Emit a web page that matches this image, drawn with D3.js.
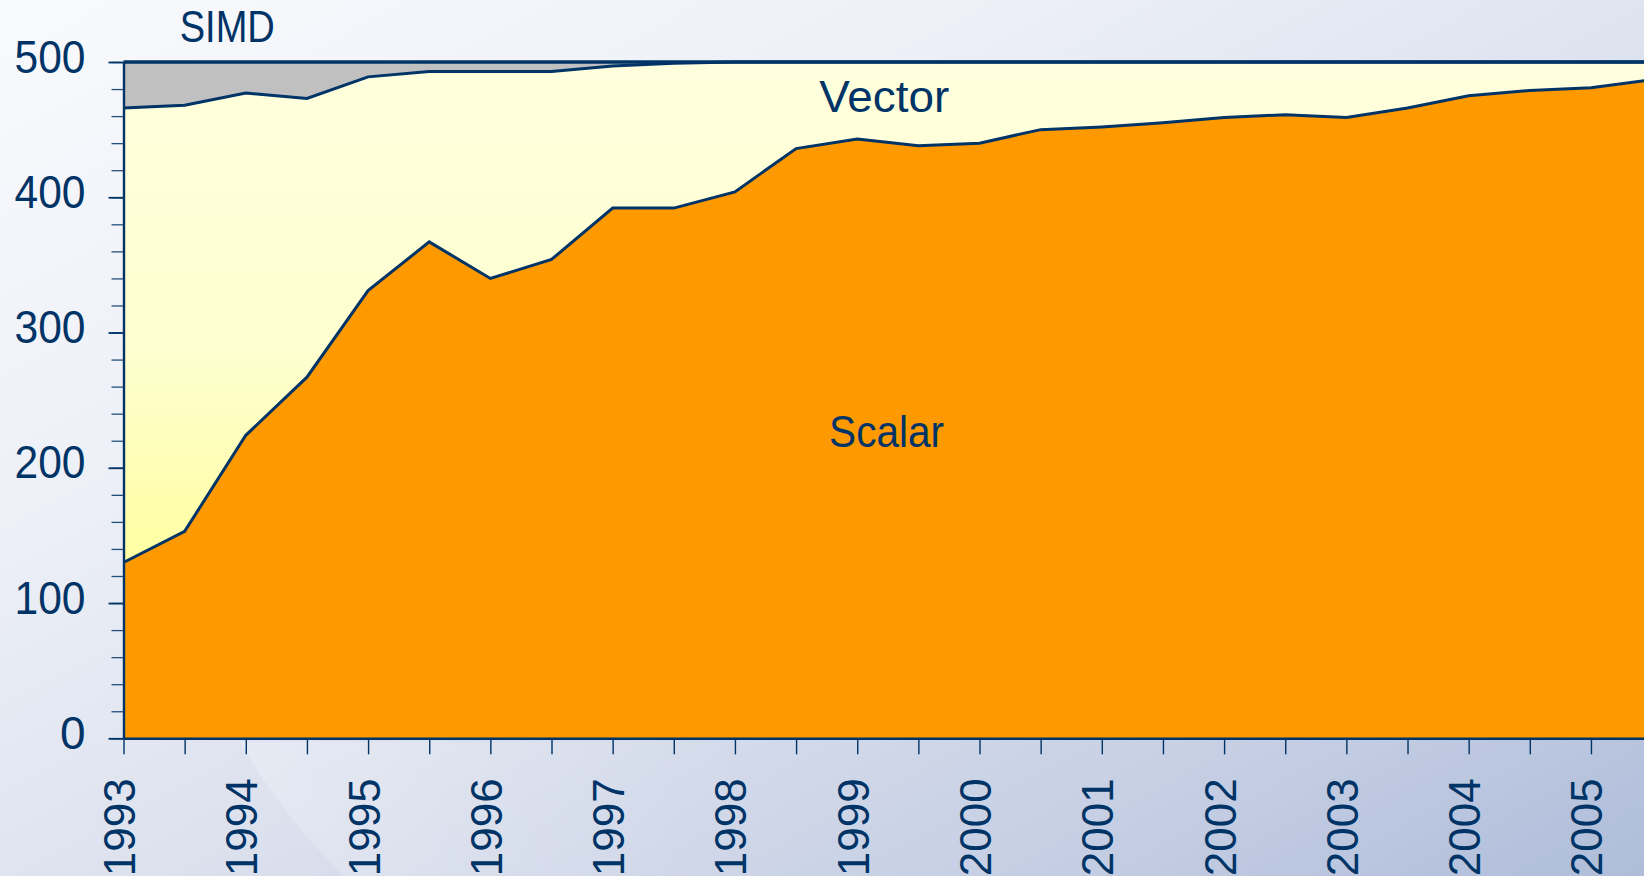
<!DOCTYPE html>
<html>
<head>
<meta charset="utf-8">
<script src="https://d3js.org/d3.v7.min.js"></script>
<style>
  html, body { margin: 0; padding: 0; overflow: hidden; background: #eef1f7; }
  svg { display: block; }
</style>
</head>
<body>
<svg id="chart" width="1644" height="876"></svg>
<script>
// ---- data (TOP500 systems by processor type, half-year lists) ----
const periods = [1993, 1993.5, 1994, 1994.5, 1995, 1995.5, 1996, 1996.5, 1997, 1997.5,
                 1998, 1998.5, 1999, 1999.5, 2000, 2000.5, 2001, 2001.5, 2002, 2002.5,
                 2003, 2003.5, 2004, 2004.5, 2005, 2005.5];
const scalar = [130, 153, 224, 267, 331, 367, 340, 354, 392, 392,
                404, 436, 443, 438, 440, 450, 452, 455, 459, 461,
                459, 466, 475, 479, 481, 487];
const vector = [336, 315, 253, 206, 158, 126, 153, 139, 105, 107,
                96, 64, 57, 62, 60, 50, 48, 45, 41, 39,
                41, 34, 25, 21, 19, 13];
const simd   = [34, 32, 23, 27, 11, 7, 7, 7, 3, 1,
                0, 0, 0, 0, 0, 0, 0, 0, 0, 0,
                0, 0, 0, 0, 0, 0];
const seriesKeys = ["scalar", "vector", "simd"];
const yearLabels = [1993, 1994, 1995, 1996, 1997, 1998, 1999, 2000, 2001, 2002, 2003, 2004, 2005];
const yMajorTicks = [0, 100, 200, 300, 400, 500];
const yMinorTicks = d3.range(0, 501, 20);
const areaLabels = [
  { key: "simd",   text: "SIMD",   year: 1993.46, value: 515.0, len: 95 },
  { key: "vector", text: "Vector", year: 1998.69, value: 463.3, len: 130 },
  { key: "scalar", text: "Scalar", year: 1998.77, value: 215.6, len: 115 }
];

// ---- layout ----
const W = 1644, H = 876;
const x = d3.scaleLinear().domain([1993, 2005.5]).range([123.5, 1652.1]);
const y = d3.scaleLinear().domain([0, 500]).range([738.3, 62]);
const ink = "#003366";
const fills = { scalar: "#FF9900", vector: "url(#yellowGrad)", simd: "#C0C0C0" };

const svg = d3.select("#chart");
const defs = svg.append("defs");

const bg = defs.append("linearGradient").attr("id", "bgGrad")
  .attr("x1", 0).attr("y1", 0).attr("x2", 1).attr("y2", 1);
bg.append("stop").attr("offset", 0).attr("stop-color", "#F9FAFD");
bg.append("stop").attr("offset", 0.3).attr("stop-color", "#EDF0F7");
bg.append("stop").attr("offset", 0.55).attr("stop-color", "#DCE1EE");
bg.append("stop").attr("offset", 0.8).attr("stop-color", "#C6CFE4");
bg.append("stop").attr("offset", 1).attr("stop-color", "#AFBDDA");

const sw = defs.append("linearGradient").attr("id", "swooshGrad")
  .attr("x1", 0).attr("y1", 0).attr("x2", 1).attr("y2", 0);
sw.append("stop").attr("offset", 0).attr("stop-color", "#ffffff").attr("stop-opacity", 0.22);
sw.append("stop").attr("offset", 1).attr("stop-color", "#ffffff").attr("stop-opacity", 0);

const yg = defs.append("linearGradient").attr("id", "yellowGrad")
  .attr("gradientUnits", "userSpaceOnUse")
  .attr("x1", 0).attr("y1", 62).attr("x2", 0).attr("y2", 600);
yg.append("stop").attr("offset", 0).attr("stop-color", "#FFFFDE");
yg.append("stop").attr("offset", 0.55).attr("stop-color", "#FEFECF");
yg.append("stop").attr("offset", 1).attr("stop-color", "#FFFF99");

// background
svg.append("rect").attr("width", W).attr("height", H).attr("fill", "url(#bgGrad)");
// faint swoosh
svg.append("path")
  .attr("d", "M240,742 C265,785 300,835 345,876 L760,876 L760,742 Z")
  .attr("fill", "url(#swooshGrad)");

// ---- stacked areas ----
const table = periods.map((p, i) => ({ period: p, scalar: scalar[i], vector: vector[i], simd: simd[i] }));
const stacked = d3.stack().keys(seriesKeys)(table);

const area = d3.area()
  .x(d => x(d.data.period))
  .y0(d => y(d[0]))
  .y1(d => y(d[1]));
const topLine = d3.line()
  .x(d => x(d.data.period))
  .y(d => y(d[1]));

const plot = svg.append("g");
plot.selectAll("path.area")
  .data(stacked.slice().reverse())
  .join("path")
  .attr("class", "area")
  .attr("d", area)
  .attr("fill", d => fills[d.key]);

plot.selectAll("path.edge")
  .data(stacked)
  .join("path")
  .attr("class", "edge")
  .attr("d", topLine)
  .attr("fill", "none")
  .attr("stroke", ink)
  .attr("stroke-width", d => d.key === "simd" ? 3.4 : 3)
  .attr("stroke-linejoin", "miter");

// ---- axes ----
const yMinor = svg.append("g").attr("transform", `translate(${x(1993)},0)`)
  .call(d3.axisLeft(y).tickValues(yMinorTicks).tickSize(12).tickSizeOuter(0).tickFormat(""));
yMinor.select(".domain").remove();
yMinor.selectAll("line").attr("stroke", ink).attr("stroke-width", 1.3).attr("opacity", 0.85);

const yMajor = svg.append("g").attr("transform", `translate(${x(1993)},0)`)
  .call(d3.axisLeft(y).tickValues(yMajorTicks).tickSize(15).tickSizeOuter(0).tickPadding(23).tickFormat(d3.format("d")));
yMajor.select(".domain").attr("stroke", ink).attr("stroke-width", 2.4);
yMajor.selectAll("line").attr("stroke", ink).attr("stroke-width", 1.8);
yMajor.selectAll("text")
  .attr("fill", ink)
  .attr("dy", 10)
  .each(function(d) { if (String(d).length === 3) d3.select(this).attr("textLength", 71).attr("lengthAdjust", "spacingAndGlyphs"); })
  .style("font-family", "'Liberation Sans', Arial, sans-serif")
  .style("font-size", "46px");

const xAxis = svg.append("g").attr("transform", `translate(0,${y(0)})`)
  .call(d3.axisBottom(x).tickValues(periods).tickSize(16).tickSizeOuter(0)
    .tickFormat(d => yearLabels.includes(d) ? String(d) : ""));
xAxis.select(".domain").attr("stroke", ink).attr("stroke-width", 2.4);
xAxis.selectAll("line").attr("stroke", ink).attr("stroke-width", 1.4);
xAxis.selectAll("text")
  .attr("fill", ink)
  .attr("transform", "rotate(-90)")
  .attr("text-anchor", "end")
  .attr("x", -40)
  .attr("y", 11)
  .attr("dy", 0)
  .style("font-family", "'Liberation Sans', Arial, sans-serif")
  .style("font-size", "44px");

// ---- in-chart series labels ----
svg.selectAll("text.serieslabel")
  .data(areaLabels)
  .join("text")
  .attr("class", "serieslabel")
  .attr("x", d => x(d.year))
  .attr("y", d => y(d.value))
  .attr("textLength", d => d.len)
  .attr("lengthAdjust", "spacingAndGlyphs")
  .attr("fill", ink)
  .style("font-family", "'Liberation Sans', Arial, sans-serif")
  .style("font-size", "45px")
  .text(d => d.text);
</script>
</body>
</html>
